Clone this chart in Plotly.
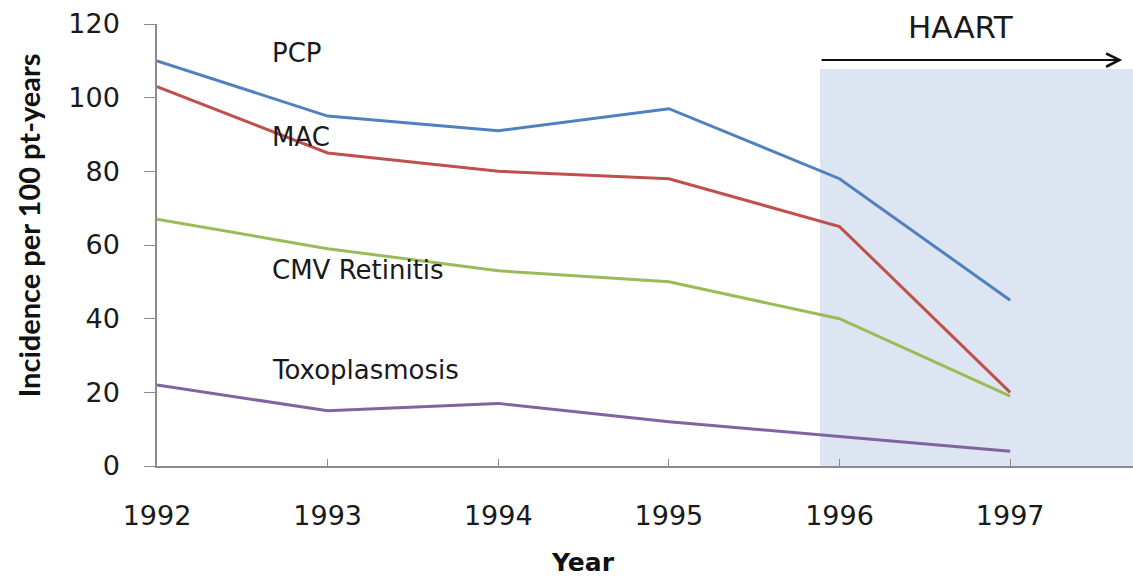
import plotly.graph_objects as go

years = [1992, 1993, 1994, 1995, 1996, 1997]
pcp = [110, 95, 91, 97, 78, 45]
mac = [103, 85, 80, 78, 65, 20]
cmv = [67, 59, 53, 50, 40, 19]
toxo = [22, 15, 17, 12, 8, 4]

series_names = ["PCP", "MAC", "CMV Retinitis", "Toxoplasmosis"]
series_values = [pcp, mac, cmv, toxo]
series_colors = ["#4F81BD", "#C0504D", "#9BBB59", "#8064A2"]
label_y = [112, 89.3, 53.2, 26.1]

y_ticks = [0, 20, 40, 60, 80, 100, 120]

FONT = "DejaVu Sans"

fig = go.Figure()

# HAART shaded region
fig.add_shape(type="rect", xref="x", yref="y", x0=1995.886, x1=1997.72, y0=0, y1=107.8,
              fillcolor="#DCE5F1", line=dict(width=0), layer="below")

for name, vals, col in zip(series_names, series_values, series_colors):
    fig.add_trace(go.Scatter(x=years, y=vals, mode="lines", name=name,
                             line=dict(color=col, width=3), showlegend=False))

for name, ly in zip(series_names, label_y):
    fig.add_annotation(x=1992.66, y=ly, xref="x", yref="y", text=name, showarrow=False,
                       xanchor="left", yanchor="middle",
                       font=dict(family=FONT, size=26, color="#1a1a1a"))

# HAART arrow
fig.add_annotation(x=1997.657, y=110.2, ax=1995.886, ay=110.2, xref="x", yref="y",
                   axref="x", ayref="y", text="", showarrow=True, arrowhead=5,
                   arrowsize=1.3, arrowwidth=2, arrowcolor="#111111")
fig.add_annotation(x=1996.71, y=0.993, xref="x", yref="paper", text="HAART", showarrow=False,
                   xanchor="center", yanchor="middle",
                   font=dict(family=FONT, size=31, color="#1a1a1a"))

# Axis titles
fig.add_annotation(x=-0.132, y=0.545, xref="paper", yref="paper",
                   text="<b>Incidence per 100 pt-years</b>", showarrow=False, textangle=-90,
                   xanchor="center", yanchor="middle",
                   font=dict(family="Lato", size=29, color="#111111"))
fig.add_annotation(x=0.4365, y=-0.218, xref="paper", yref="paper",
                   text="<b>Year</b>", showarrow=False, xanchor="center", yanchor="middle",
                   font=dict(family=FONT, size=25, color="#111111"))

fig.update_xaxes(range=[1992, 1997.72], tickvals=years, ticktext=[str(y) for y in years],
                 ticks="inside", ticklen=7, tickcolor="#8c8c8c", showline=True,
                 linecolor="#8c8c8c", linewidth=1.5, showgrid=False, zeroline=False,
                 tickfont=dict(family=FONT, size=27, color="#1a1a1a"),
                 ticklabelstandoff=25)
fig.update_yaxes(range=[0, 120], tickvals=y_ticks, ticks="outside", ticklen=11,
                 tickcolor="#8c8c8c", showline=True, linecolor="#8c8c8c", linewidth=1.5,
                 showgrid=False, zeroline=False,
                 tickfont=dict(family=FONT, size=27, color="#1a1a1a"),
                 ticklabelstandoff=19)

fig.update_layout(width=1133, height=578, margin=dict(l=157, r=0, t=24, b=112),
                  paper_bgcolor="white", plot_bgcolor="white")

fig.write_html("out.html", config={"displayModeBar": False},
               post_script="document.body.style.margin='0';")
